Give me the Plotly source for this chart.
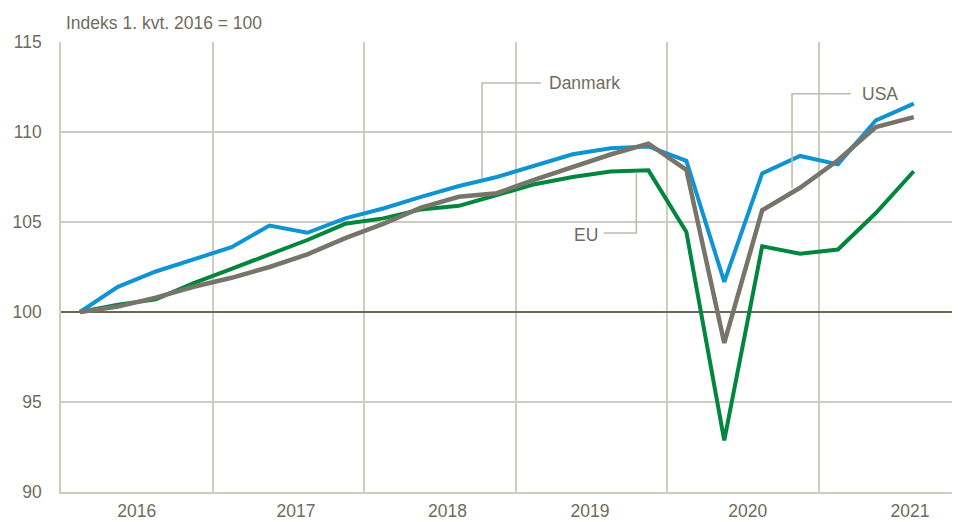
import plotly.graph_objects as go

quarters = ["2016K1", "2016K2", "2016K3", "2016K4",
            "2017K1", "2017K2", "2017K3", "2017K4",
            "2018K1", "2018K2", "2018K3", "2018K4",
            "2019K1", "2019K2", "2019K3", "2019K4",
            "2020K1", "2020K2", "2020K3", "2020K4",
            "2021K1", "2021K2", "2021K3"]

danmark = [100, 101.4, 102.25, 102.95, 103.6, 104.8, 104.4, 105.2, 105.75, 106.4, 107.0, 107.5,
           108.15, 108.76, 109.1, 109.2, 108.4, 101.67, 107.7, 108.67, 108.2, 110.65, 111.58]
eu = [100, 100.4, 100.7, 101.6, 102.4, 103.2, 104.0, 104.9, 105.2, 105.7, 105.9, 106.5,
      107.1, 107.5, 107.8, 107.87, 104.45, 92.87, 103.65, 103.24, 103.47, 105.5, 107.82]
usa = [100, 100.3, 100.8, 101.4, 101.9, 102.5, 103.2, 104.1, 104.9, 105.8, 106.4, 106.6,
       107.35, 108.05, 108.75, 109.35, 107.9, 98.28, 105.65, 106.9, 108.43, 110.28, 110.83]

year_labels = ["2016", "2017", "2018", "2019", "2020", "2021"]
year_label_pos = [2016.50, 2017.55, 2018.55, 2019.49, 2020.53, 2021.60]
year_bounds = [2017, 2018, 2019, 2020, 2021]
y_ticks = [90, 95, 100, 105, 110, 115]
BASE = 100
X_RANGE = [2016, 2021.93]

x = [int(q[:4]) + (int(q[-1]) - 0.5) / 4 for q in quarters]

FONT = "Liberation Sans, Arial, sans-serif"
FS = 17.5
TXT = "#6f6b5e"
GRID = "#cdcbc2"

fig = go.Figure()
# index base line (100)
fig.add_trace(go.Scatter(x=X_RANGE, y=[BASE, BASE], mode="lines", hoverinfo="skip",
                         line=dict(color="#6b6858", width=2), cliponaxis=True))
fig.add_trace(go.Scatter(x=x, y=eu, mode="lines", name="EU",
                         line=dict(color="#00873d", width=4)))
fig.add_trace(go.Scatter(x=x, y=danmark, mode="lines", name="Danmark",
                         line=dict(color="#0f94d3", width=4)))
fig.add_trace(go.Scatter(x=x, y=usa, mode="lines", name="USA",
                         line=dict(color="#77746a", width=4.5)))

# label connectors
conn = dict(color="#bdbab0", width=1.5)
fig.add_trace(go.Scatter(x=[2019.166, 2018.777, 2018.777], y=[112.72, 112.72, 107.41],
                         mode="lines", line=conn, hoverinfo="skip"))
fig.add_trace(go.Scatter(x=[2019.579, 2019.795, 2019.795], y=[104.39, 104.39, 107.69],
                         mode="lines", line=conn, hoverinfo="skip"))
fig.add_trace(go.Scatter(x=[2021.211, 2020.822, 2020.822], y=[112.13, 112.13, 106.86],
                         mode="lines", line=conn, hoverinfo="skip"))

fig.add_annotation(x=2019.206, y=112.72, text="Danmark", showarrow=False,
                   xanchor="left", yanchor="middle", font=dict(size=FS, color=TXT, family=FONT))
fig.add_annotation(x=2019.557, y=104.3, text="EU", showarrow=False,
                   xanchor="right", yanchor="middle", font=dict(size=FS, color=TXT, family=FONT))
fig.add_annotation(x=2021.268, y=112.1, text="USA", showarrow=False,
                   xanchor="left", yanchor="middle", font=dict(size=FS, color=TXT, family=FONT))
fig.add_annotation(x=0, xref="paper", xshift=3, y=1, yref="paper", yshift=19,
                   text="Indeks 1. kvt. 2016 = 100", showarrow=False,
                   xanchor="left", yanchor="middle", font=dict(size=FS, color=TXT, family=FONT))

# page body has an 8px default margin, so the figure is sized/offset to compensate
fig.update_layout(
    width=952, height=514,
    margin=dict(l=53, r=0, t=34, b=30, pad=0),
    plot_bgcolor="white", paper_bgcolor="white",
    showlegend=False,
    font=dict(family=FONT, size=FS, color=TXT),
    xaxis=dict(range=X_RANGE, tickvals=year_label_pos, ticktext=year_labels,
               showgrid=False, zeroline=False, ticks="", ticklabelstandoff=2, automargin=False,
               showline=True, linecolor=GRID, linewidth=1.5, mirror=False,
               minor=dict(tickvals=year_bounds, showgrid=True, gridcolor=GRID, gridwidth=1.5),
               tickfont=dict(size=FS, color=TXT)),
    yaxis=dict(range=[90, 115], tickvals=y_ticks, showgrid=True, gridcolor=GRID, gridwidth=1.5,
               zeroline=False, ticks="", ticklabelstandoff=14, automargin=False,
               showline=True, linecolor=GRID, linewidth=1.5,
               tickfont=dict(size=FS, color=TXT)),
)

fig.write_html("out.html")
